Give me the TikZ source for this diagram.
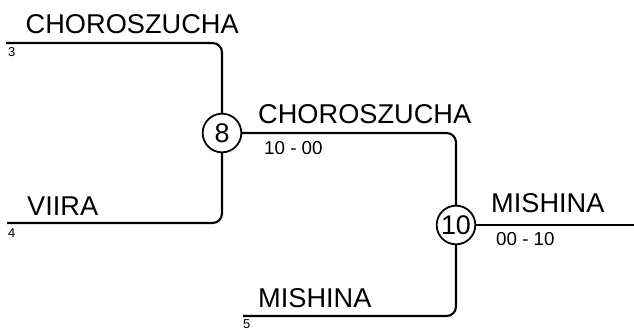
\documentclass[tikz,border=0pt]{standalone}
\usepackage{fontspec}
\setmainfont{Liberation Sans}
\usepackage{tikz}

\tikzset{
  bracket/.style={line width=1.8pt, rounded corners=8pt},
  match/.style={circle, draw, line width=1.5pt, minimum size=33pt, inner sep=0pt, font=\fontsize{23}{23}\selectfont},
  team/.style={anchor=base west, inner sep=0pt, font=\fontsize{23.2}{23.2}\selectfont},
  score/.style={anchor=base west, inner sep=0pt, font=\fontsize{16}{16}\selectfont},
  seed/.style={anchor=base west, inner sep=0pt, font=\fontsize{11}{11}\selectfont}
}

\begin{document}
\begin{tikzpicture}[x=0.03cm, y=-0.03cm]
    \useasboundingbox (0, 0) rectangle (634, 329);

    % matches
    \node [match] (m8) at (222, 133) {8};
    \node [match] (m10) at (456, 225) {10};

    % line ends
    \coordinate (s3) at (6, 43);
    \coordinate (s4) at (7, 223);
    \coordinate (s5) at (243, 316);
    \coordinate (win) at (634, 225);

    \draw [bracket] (s3) -| (m8);
    \draw [bracket] (s4) -| (m8);
    \draw [bracket] (m8) -| (m10);
    \draw [bracket] (s5) -| (m10);
    \draw [bracket] (m10) -- (win);

    % names
    \node [team] (t3) at (25.5, 33) {CHOROSZUCHA};
    \node [team] (t4) at (27, 215) {VIIRA};
    \node [team] (t5) at (258, 307) {MISHINA};
    \node [team] (w8) at (258, 123) {CHOROSZUCHA};
    \node [team] (w10) at (491, 212) {MISHINA};

    % results
    \node [score] (r8) at (264, 154) {10 - 00};
    \node [score] (r10) at (496, 245) {00 - 10};

    % seeds
    \node [seed] (n3) at (8, 56) {3};
    \node [seed] (n4) at (8, 237) {4};
    \node [seed] (n5) at (243, 328) {5};
  \end{tikzpicture}
\end{document}
